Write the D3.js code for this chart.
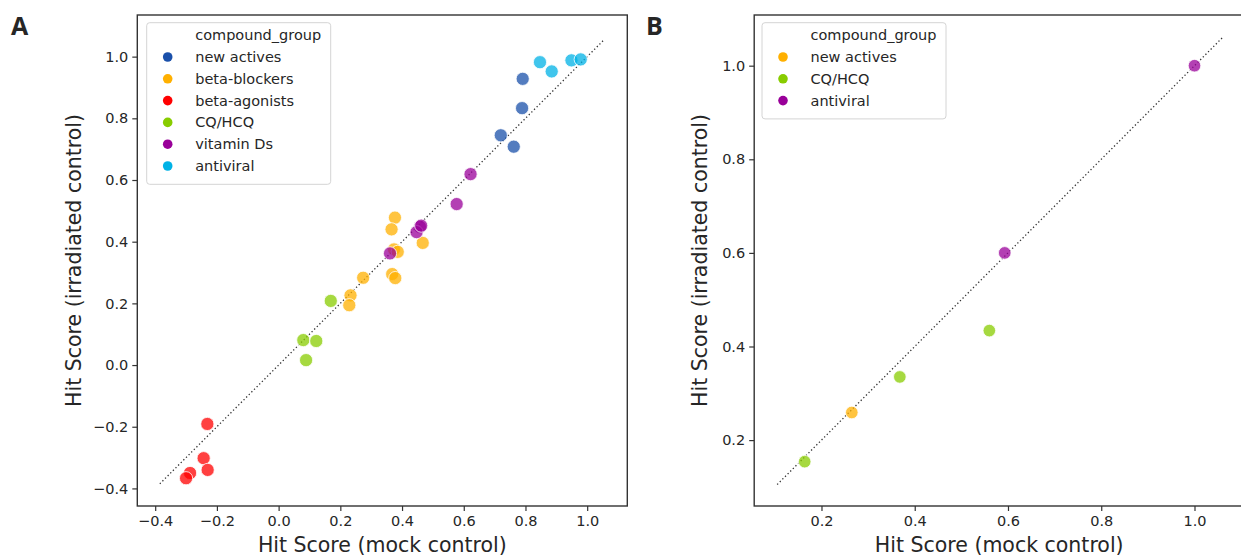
<!DOCTYPE html>
<html>
<head>
<meta charset="utf-8">
<script src="https://cdn.jsdelivr.net/npm/d3@7"></script>
<style>
  html, body { margin: 0; padding: 0; background: #fff; }
  svg { display: block; }
  text { font-family: "DejaVu Sans", sans-serif; fill: #262626; }
</style>
</head>
<body>
<svg id="chart" width="1241" height="557"></svg>
<script>
// ---------- Panel A data ----------
const groupsA = ["new actives", "beta-blockers", "beta-agonists", "CQ/HCQ", "vitamin Ds", "antiviral"];
const colorsA = ["#1a50aa", "#ffb000", "#ff0000", "#88cc00", "#990099", "#00b2e6"];
const groupA = ["new actives","new actives","new actives","new actives",
  "beta-blockers","beta-blockers","beta-blockers","beta-blockers","beta-blockers",
  "beta-blockers","beta-blockers","beta-blockers","beta-blockers","beta-blockers",
  "beta-agonists","beta-agonists","beta-agonists","beta-agonists","beta-agonists",
  "CQ/HCQ","CQ/HCQ","CQ/HCQ","CQ/HCQ",
  "vitamin Ds","vitamin Ds","vitamin Ds","vitamin Ds","vitamin Ds","vitamin Ds",
  "antiviral","antiviral","antiviral","antiviral"];
const mockA = [0.791, 0.789, 0.720, 0.762,
  0.377, 0.366, 0.467, 0.374, 0.386, 0.274, 0.368, 0.378, 0.233, 0.229,
  -0.231, -0.243, -0.230, -0.287, -0.300,
  0.169, 0.080, 0.122, 0.089,
  0.622, 0.577, 0.458, 0.447, 0.462, 0.361,
  0.847, 0.885, 0.949, 0.979];
const irrA = [0.928, 0.833, 0.745, 0.708,
  0.478, 0.440, 0.396, 0.375, 0.367, 0.283, 0.295, 0.282, 0.226, 0.194,
  -0.191, -0.302, -0.340, -0.350, -0.367,
  0.208, 0.081, 0.078, 0.016,
  0.619, 0.522, 0.448, 0.431, 0.452, 0.362,
  0.982, 0.952, 0.988, 0.991];
const ticksA = [-0.4, -0.2, 0.0, 0.2, 0.4, 0.6, 0.8, 1.0];
const diagA = [-0.385, 1.056];

// ---------- Panel B data ----------
const groupsB = ["new actives", "CQ/HCQ", "antiviral"];
const colorsB = ["#ffb000", "#88cc00", "#990099"];
const groupB = ["antiviral", "antiviral", "CQ/HCQ", "CQ/HCQ", "new actives", "CQ/HCQ"];
const mockB = [1.000, 0.593, 0.560, 0.368, 0.265, 0.164];
const irrB  = [1.000, 0.600, 0.434, 0.335, 0.259, 0.154];
const ticksB = [0.2, 0.4, 0.6, 0.8, 1.0];
const diagB = [0.105, 1.060];

const svg = d3.select("#chart");
const fmt = d3.format(".1f");

function panel(cfg) {
  const g = svg.append("g");
  const x = d3.scaleLinear().domain(cfg.xDomain).range([cfg.left, cfg.left + cfg.w]);
  const y = d3.scaleLinear().domain(cfg.yDomain).range([cfg.top + cfg.h, cfg.top]);
  const color = d3.scaleOrdinal().domain(cfg.groups).range(cfg.colors);

  // diagonal reference line
  g.append("line")
    .attr("x1", x(cfg.diag[0])).attr("y1", y(cfg.diag[0]))
    .attr("x2", x(cfg.diag[1])).attr("y2", y(cfg.diag[1]))
    .attr("stroke", "#333").attr("stroke-width", 1.3)
    .attr("stroke-dasharray", "1.3 2.4");

  // points
  const idx = d3.range(cfg.xs.length);
  g.selectAll("circle.pt").data(idx).join("circle")
    .attr("class", "pt")
    .attr("cx", i => x(cfg.xs[i]))
    .attr("cy", i => y(cfg.ys[i]))
    .attr("r", cfg.r)
    .attr("fill", i => color(cfg.gs[i]))
    .attr("fill-opacity", 0.75)
    .attr("stroke", "#fff").attr("stroke-width", 0.8);

  // axes
  const xAxis = d3.axisBottom(x).tickValues(cfg.ticksX).tickFormat(fmt).tickSize(5).tickPadding(5);
  const yAxis = d3.axisLeft(y).tickValues(cfg.ticksY).tickFormat(fmt).tickSize(5).tickPadding(4);
  const gx = g.append("g").attr("transform", `translate(0,${cfg.top + cfg.h})`).call(xAxis);
  const gy = g.append("g").attr("transform", `translate(${cfg.left},0)`).call(yAxis);
  [gx, gy].forEach(a => {
    a.select(".domain").remove();
    a.selectAll(".tick line").attr("stroke", "#333").attr("stroke-width", 1.2);
    a.selectAll(".tick text").style("font-size", "14.5px").attr("fill", "#262626");
  });

  // frame
  g.append("rect")
    .attr("x", cfg.left).attr("y", cfg.top).attr("width", cfg.w).attr("height", cfg.h)
    .attr("fill", "none").attr("stroke", "#333").attr("stroke-width", 1.4);

  // axis labels
  g.append("text")
    .attr("x", cfg.left + cfg.w / 2 + cfg.xLabelShift).attr("y", 552)
    .attr("text-anchor", "middle").style("font-size", "20.5px")
    .text("Hit Score (mock control)");
  g.append("text")
    .attr("transform", `translate(${cfg.yLabelX},${cfg.top + cfg.h / 2}) rotate(-90)`)
    .attr("text-anchor", "middle").style("font-size", "20.5px")
    .text("Hit Score (irradiated control)");

  // panel letter
  g.append("text")
    .attr("x", cfg.letterX).attr("y", 35)
    .style("font-family", "'Open Sans', 'DejaVu Sans', sans-serif")
    .style("font-weight", "bold").style("font-size", "25px").attr("fill", "#000")
    .text(cfg.letter);

  // legend
  const lg = g.append("g").attr("transform", `translate(${cfg.legX},${cfg.legY})`);
  const rowH = 21.8;
  const legH = 13 + rowH * (cfg.groups.length + 1) - 4;
  lg.append("rect").attr("x", 0).attr("y", 0).attr("width", 184).attr("height", legH)
    .attr("rx", 3).attr("fill", "#fff").attr("fill-opacity", 0.85)
    .attr("stroke", "#d4d4d4").attr("stroke-width", 1);
  lg.append("text").attr("x", 48.5).attr("y", 12.5).attr("dy", "0.35em")
    .style("font-size", "14.5px").text("compound_group");
  cfg.groups.forEach((name, i) => {
    const cy = 12.5 + rowH * (i + 1);
    lg.append("circle").attr("cx", 21).attr("cy", cy).attr("r", 4.8).attr("fill", color(name));
    lg.append("text").attr("x", 48.5).attr("y", cy).attr("dy", "0.35em")
      .style("font-size", "14.5px").text(name);
  });
}

panel({
  letter: "A", letterX: 11,
  left: 137.3, top: 15, w: 490, h: 491,
  xDomain: [-0.458, 1.130], yDomain: [-0.457, 1.135],
  groups: groupsA, colors: colorsA,
  xs: mockA, ys: irrA, gs: groupA, r: 6.6,
  ticksX: ticksA, ticksY: ticksA, diag: diagA,
  yLabelX: 81, xLabelShift: 0,
  legX: 146.7, legY: 22.7
});

panel({
  letter: "B", letterX: 646,
  left: 754.2, top: 15, w: 490, h: 491,
  xDomain: [0.0557, 1.1066], yDomain: [0.0592, 1.1083],
  groups: groupsB, colors: colorsB,
  xs: mockB, ys: irrB, gs: groupB, r: 6.3,
  ticksX: ticksB, ticksY: ticksB, diag: diagB,
  yLabelX: 707, xLabelShift: 0,
  legX: 762, legY: 22.7
});
</script>
</body>
</html>
